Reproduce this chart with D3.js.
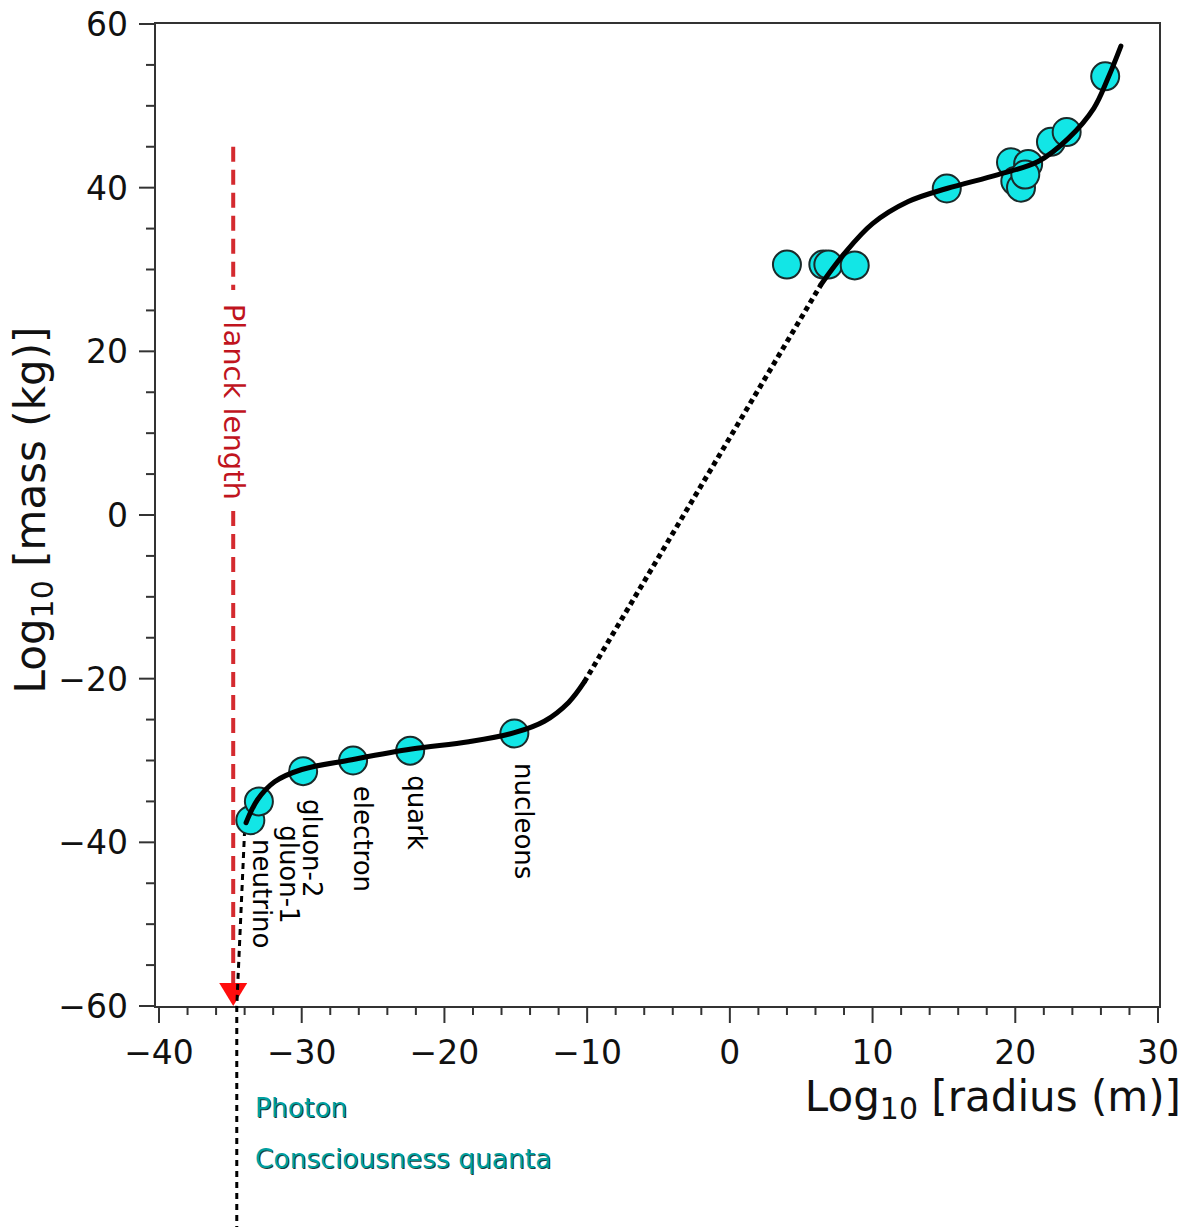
<!DOCTYPE html>
<html>
<head>
<meta charset="utf-8">
<script src="https://cdn.jsdelivr.net/npm/d3@7.8.5/dist/d3.min.js"></script>
<style>
  body { margin: 0; background: #fff; }
  svg { display: block; font-family: "DejaVu Sans", sans-serif; }
</style>
</head>
<body>
<div id="chart"></div>
<script>
// measured objects: log10 radius (m), log10 mass (kg)
const pointX = [-33.6, -33.0, -29.9, -26.4, -22.4, -15.1,
  4.0, 6.55, 6.9, 8.75, 15.2,
  19.7, 20.9, 20.0, 20.4, 20.7, 22.5, 23.6, 26.3];
const pointY = [-37.3, -35.0, -31.3, -30.0, -28.8, -26.7,
  30.6, 30.6, 30.6, 30.5, 39.9,
  43.1, 42.9, 40.8, 40.0, 41.6, 45.6, 46.8, 53.6];

// particle labels (placed under the first six points)
const labelNames = ["neutrino", "gluon-1", "gluon-2", "electron", "quark", "nucleons"];
const labelX = [-32.8, -30.9, -29.3, -25.7, -21.9, -14.4];
const labelY = [-39.6, -37.9, -34.7, -33.1, -31.8, -30.3];

// fitted trend: lower solid branch, dotted bridge, upper solid branch
const lowX = [-33.9, -33.1, -31.9, -30.0, -26.5, -22.3, -18.3, -15.1, -13.0, -11.3, -10.2];
const lowY = [-37.6, -34.8, -32.6, -31.1, -29.9, -28.6, -27.7, -26.6, -25.2, -22.9, -20.4];
const bridgeX = [-10.2, 6.4];
const bridgeY = [-20.4, 28.2];
const highX = [6.4, 8.0, 10.0, 12.5, 15.2, 18.8, 21.6, 23.7, 25.5, 26.5, 27.4];
const highY = [28.2, 31.9, 35.6, 38.3, 39.9, 41.6, 43.2, 46.0, 49.7, 53.4, 57.3];

// drop line from the neutrino down past the axis
const dropX = [-34.0, -34.55, -34.55];
const dropY = [-38.5, -60, -87];

// Planck length marker
const planckX = -34.8;
const planckTop = [45, 27.5];
const planckBottom = [0.5, -57.4];
const arrowTipY = -60;

const xTicks = [-40, -30, -20, -10, 0, 10, 20, 30];
const yTicks = [-60, -40, -20, 0, 20, 40, 60];

const legendNames = ["Photon", "Consciousness quanta"];

const width = 1188, height = 1229;
const svg = d3.select("#chart").append("svg")
  .attr("width", width).attr("height", height);

const x = d3.scaleLinear().domain([-40, 30]).range([159, 1158]);
const y = d3.scaleLinear().domain([-60, 60]).range([1006, 24]);

const frameLeft = 155, frameRight = 1160, frameTop = 23, frameBottom = 1007;

// frame
svg.append("rect")
  .attr("x", frameLeft).attr("y", frameTop)
  .attr("width", frameRight - frameLeft).attr("height", frameBottom - frameTop)
  .attr("fill", "none").attr("stroke", "#333").attr("stroke-width", 2);

// x ticks
const xMinor = d3.range(-40, 30.1, 2);
svg.append("g").selectAll("line").data(xMinor).join("line")
  .attr("x1", d => x(d)).attr("x2", d => x(d))
  .attr("y1", frameBottom).attr("y2", d => frameBottom + (d % 10 === 0 ? 16 : 8))
  .attr("stroke", "#333").attr("stroke-width", 2);
svg.append("g").selectAll("text").data(xTicks).join("text")
  .attr("x", d => x(d)).attr("y", 1064)
  .attr("text-anchor", "middle")
  .attr("font-size", 33).attr("fill", "#111")
  .text(d => d < 0 ? "\u2212" + Math.abs(d) : d);

// y ticks
const yMinor = d3.range(-60, 60.1, 5);
svg.append("g").selectAll("line").data(yMinor).join("line")
  .attr("y1", d => y(d)).attr("y2", d => y(d))
  .attr("x1", frameLeft).attr("x2", d => frameLeft - (d % 20 === 0 ? 16 : 9))
  .attr("stroke", "#333").attr("stroke-width", 2);
svg.append("g").selectAll("text").data(yTicks).join("text")
  .attr("x", 128).attr("y", d => y(d) + 12)
  .attr("text-anchor", "end")
  .attr("font-size", 33).attr("fill", "#111")
  .text(d => d < 0 ? "\u2212" + Math.abs(d) : d);

// axis titles
const xt = svg.append("text")
  .attr("x", 1181).attr("y", 1111)
  .attr("text-anchor", "end").attr("font-size", 42).attr("fill", "#111");
xt.append("tspan").text("Log");
xt.append("tspan").attr("font-size", 30).attr("dy", 8).text("10");
xt.append("tspan").attr("dy", -8).text(" [radius (m)]");

const yt = svg.append("text")
  .attr("transform", "translate(45,510) rotate(-90)")
  .attr("text-anchor", "middle").attr("font-size", 42).attr("fill", "#111");
yt.append("tspan").text("Log");
yt.append("tspan").attr("font-size", 30).attr("dy", 8).text("10");
yt.append("tspan").attr("dy", -8).text(" [mass (kg)]");

// Planck length dashed marker
const red = "#d42a2f";
[planckTop, planckBottom].forEach(seg => {
  svg.append("line")
    .attr("x1", x(planckX)).attr("x2", x(planckX))
    .attr("y1", y(seg[0])).attr("y2", y(seg[1]))
    .attr("stroke", red).attr("stroke-width", 4)
    .attr("stroke-dasharray", "15,8");
});
svg.append("text")
  .attr("transform", `translate(${x(planckX) + 1},${y(25.8)}) rotate(90)`)
  .attr("dy", "0.36em")
  .attr("font-size", 29).attr("fill", "#c0141e")
  .text("Planck length");
const tip = [x(planckX), y(arrowTipY)];
svg.append("path")
  .attr("d", `M${tip[0]},${tip[1]} L${tip[0] - 14},${tip[1] - 23} L${tip[0] + 14},${tip[1] - 23} Z`)
  .attr("fill", "#ff0d0d");

// drop line
const line = d3.line().x(d => x(d[0])).y(d => y(d[1]));
svg.append("path")
  .datum(d3.zip(dropX, dropY))
  .attr("d", line)
  .attr("fill", "none").attr("stroke", "#000").attr("stroke-width", 3)
  .attr("stroke-dasharray", "6,5");

// trend line
const smooth = d3.line().x(d => x(d[0])).y(d => y(d[1])).curve(d3.curveCatmullRom);
svg.append("path")
  .datum(d3.zip(bridgeX, bridgeY))
  .attr("d", line)
  .attr("fill", "none").attr("stroke", "#000").attr("stroke-width", 5)
  .attr("stroke-dasharray", "5,4");

// points
svg.append("g").selectAll("circle").data(d3.zip(pointX, pointY)).join("circle")
  .attr("cx", d => x(d[0])).attr("cy", d => y(d[1]))
  .attr("r", 14)
  .attr("fill", "#12e6e6")
  .attr("stroke", "#1a2a2a").attr("stroke-width", 2);

// solid branches over the points
[[lowX, lowY], [highX, highY]].forEach(([xs, ys]) => {
  svg.append("path")
    .datum(d3.zip(xs, ys))
    .attr("d", smooth)
    .attr("fill", "none").attr("stroke", "#000").attr("stroke-width", 5)
    .attr("stroke-linecap", "round");
});

// particle labels
svg.append("g").selectAll("text").data(labelNames).join("text")
  .attr("transform", (d, i) => `translate(${x(labelX[i])},${y(labelY[i])}) rotate(90)`)
  .attr("dy", "0.35em")
  .attr("font-size", 26).attr("fill", "#000")
  .text(d => d);

// notes below the axis
const noteY = [1117, 1168];
legendNames.forEach((t, i) => {
  svg.append("text").attr("x", 256).attr("y", noteY[i] + 1)
    .attr("font-size", 26.5).attr("fill", "#1d3b3b").text(t);
  svg.append("text").attr("x", 255).attr("y", noteY[i])
    .attr("font-size", 26.5).attr("fill", "#00a0a0").text(t);
});
</script>
</body>
</html>
